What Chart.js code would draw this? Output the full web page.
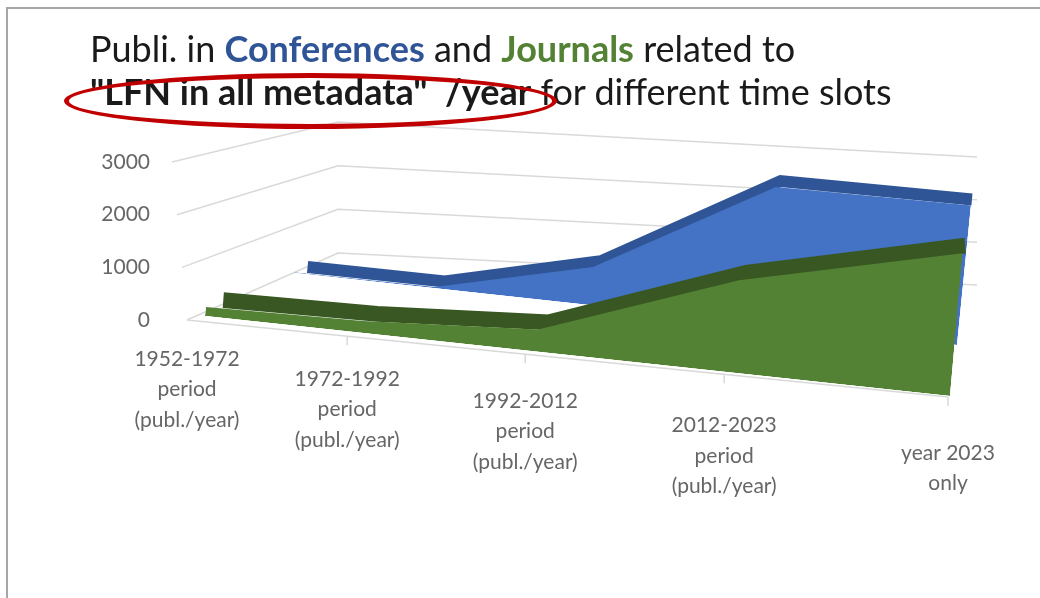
<!DOCTYPE html>
<html>
<head>
<meta charset="utf-8">
<script src="https://cdn.jsdelivr.net/npm/chart.js@4.4.0/dist/chart.umd.min.js"></script>
<style>
  html, body { margin: 0; padding: 0; background: #fff; overflow: hidden; }
  #wrap { position: relative; width: 1040px; height: 598px; }
  #frame { position: absolute; left: 6px; top: 7px; width: 1100px; height: 700px;
           border-left: 2px solid #a6a6a6; border-top: 2px solid #a6a6a6; }
  #title { position: absolute; left: 90px; top: 27px; font-family: Lato, sans-serif;
           font-size: 36px; line-height: 43px; color: #1a1a1a; white-space: pre; }
  #title .conf { color: #2f5597; font-weight: bold; }
  #title .jour { color: #548235; font-weight: bold; }
  #ring { position: absolute; left: 64px; top: 73px; width: 493px; height: 56px;
          box-sizing: border-box; border: 5px solid #c00000; border-radius: 50%; }
  canvas { position: absolute; left: 0; top: 0; }
</style>
</head>
<body>
<div id="wrap">
  <div id="frame"></div>
  <canvas id="chart" width="1040" height="598"></canvas>
  <div id="title">Publi. in <span class="conf">Conferences</span> and <span class="jour">Journals</span> related to
<b>"LFN in all metadata"  /year</b> for different time slots</div>
  <div id="ring"></div>
</div>
<script>
const categories = [
  ["1952-1972", "period", "(publ./year)"],
  ["1972-1992", "period", "(publ./year)"],
  ["1992-2012", "period", "(publ./year)"],
  ["2012-2023", "period", "(publ./year)"],
  ["year 2023", "only"]
];
const conferences = [10, 20, 720, 2600, 2650];
const journals = [150, 200, 370, 1550, 2400];
const yTicks = [0, 1000, 2000, 3000];

// fake 3D: every row is the flat plot pushed onto a tilted floor
// l / r = offset of the left / right base corner from the plot area corners
const rows = {
  floor:     { l: [-18, 0],       r: [-2, 77],    s: 1,    lean: 0 },
  greenFace: { l: [0, -4],        r: [0, 76],     s: 1.13, lean: -0.1 },
  greenTop:  { l: [17.5, -11],    r: [2.5, 68.5], s: 1.13, lean: -0.1 },
  blueFace:  { l: [90, -47],      r: [7, 25],     s: 1,    lean: -0.1 },
  blueTop:   { l: [102.5, -52.5], r: [8, 19],     s: 1,    lean: -0.1 }
};

function matrix(chart, row) {
  const L = chart.chartArea.left, R = chart.chartArea.right;
  const Y0 = chart.scales.y.getPixelForValue(0);
  const x0 = L + row.l[0], y0 = Y0 + row.l[1];
  const x1 = R + row.r[0], y1 = Y0 + row.r[1];
  const a = (x1 - x0) / (R - L), b = (y1 - y0) / (R - L);
  const c = row.lean, d = row.s;
  return [a, b, c, d, x0 - a * L - c * Y0, y0 - b * L - d * Y0];
}

// category axis seen in perspective: right side closer to the viewer
class PerspectiveScale extends Chart.CategoryScale {
  getPixelForDecimal(dec) {
    const q = 1.25;
    return super.getPixelForDecimal(dec / (q + (1 - q) * dec));
  }
}
PerspectiveScale.id = 'perspective';
PerspectiveScale.defaults = Chart.CategoryScale.defaults;
Chart.register(PerspectiveScale);

let queue = [];
function pushNext(chart) {
  const meta = queue.shift();
  if (!meta) return;
  const ds = chart.data.datasets[meta.index];
  chart.ctx.save();
  chart.ctx.transform(...matrix(chart, rows[ds.row]));
}

function drawWalls(chart) {
  const ctx = chart.ctx;
  const L = chart.chartArea.left, R = chart.chartArea.right;
  const ys = chart.scales.y;
  const Y0 = ys.getPixelForValue(0);
  ctx.save();
  ctx.strokeStyle = '#d9d9d9';
  ctx.lineWidth = 1.5;
  ctx.beginPath();
  ys.ticks.forEach(t => {
    const y = ys.getPixelForValue(t.value);
    const h = Y0 - y;
    ctx.moveTo(L - 18 - 0.095 * h, y);
    ctx.lineTo(L + 133, Y0 - 67 - 0.829 * h);
    ctx.lineTo(R + 27, Y0 - 35 - 0.81 * h);
  });
  // front edge of the floor with tick marks
  const m = matrix(chart, rows.floor);
  const xs = chart.scales.x;
  ctx.moveTo(m[0] * L + m[4], m[1] * L + m[3] * Y0 + m[5]);
  ctx.lineTo(m[0] * R + m[4], m[1] * R + m[3] * Y0 + m[5]);
  for (let i = 1; i < categories.length; i++) {
    const x = xs.getPixelForValue(i);
    const px = m[0] * x + m[4], py = m[1] * x + m[3] * Y0 + m[5];
    ctx.moveTo(px, py);
    ctx.lineTo(px, py + 9);
  }
  ctx.stroke();
  ctx.restore();
}

function drawCategoryLabels(chart) {
  const ctx = chart.ctx;
  const L = chart.chartArea.left, R = chart.chartArea.right;
  const Y0 = chart.scales.y.getPixelForValue(0);
  const xs = chart.scales.x;
  const m = matrix(chart, rows.floor);
  ctx.save();
  ctx.font = '21px Lato';
  ctx.fillStyle = '#666666';
  ctx.textAlign = 'center';
  ctx.textBaseline = 'middle';
  chart.data.labels.forEach((lab, i) => {
    const x = xs.getPixelForValue(i);
    const f = (x - L) / (R - L);
    const px = m[0] * x + m[4];
    const py = m[1] * x + m[3] * Y0 + m[5] + 39 + 17 * f;
    lab.forEach((line, k) => ctx.fillText(line, px, py + k * 30.5));
  });
  ctx.restore();
}

const depth3d = {
  id: 'depth3d',
  beforeDatasetsDraw(chart) {
    drawWalls(chart);
    queue = chart.getSortedVisibleDatasetMetas().slice().reverse();
    pushNext(chart);
  },
  afterDatasetDraw(chart) {
    chart.ctx.restore();
    pushNext(chart);
  },
  afterDatasetsDraw(chart) {
    drawCategoryLabels(chart);
  }
};

new Chart(document.getElementById('chart'), {
  type: 'line',
  data: {
    labels: categories,
    datasets: [
      { label: 'Journals', row: 'greenFace', order: 1, data: journals, fill: 'origin',
        backgroundColor: '#548235', borderColor: 'rgba(0,0,0,0)', borderWidth: 0, clip: false },
      { label: 'Journals top', row: 'greenTop', order: 2, data: journals, fill: false,
        borderColor: '#385723', borderWidth: 14, borderCapStyle: 'butt', borderJoinStyle: 'miter', clip: false },
      { label: 'Conferences', row: 'blueFace', order: 3, data: conferences, fill: 'origin',
        backgroundColor: '#4472c4', borderColor: 'rgba(0,0,0,0)', borderWidth: 0, clip: false },
      { label: 'Conferences top', row: 'blueTop', order: 4, data: conferences, fill: false,
        borderColor: '#2f5597', borderWidth: 12, borderCapStyle: 'butt', borderJoinStyle: 'miter', clip: false }
    ]
  },
  options: {
    responsive: false,
    animation: false,
    devicePixelRatio: 1,
    layout: { padding: { left: 85, right: 90, top: 162, bottom: 278 } },
    elements: { point: { radius: 0 }, line: { tension: 0 } },
    plugins: { legend: { display: false }, tooltip: { enabled: false } },
    scales: {
      x: { type: 'perspective', display: false },
      y: {
        min: 0, max: 3000,
        afterBuildTicks: s => { s.ticks = yTicks.map(v => ({ value: v })); },
        afterFit: s => { s.width = 120; },
        grid: { display: false, drawTicks: false },
        border: { display: false },
        ticks: { padding: 55, color: '#666666', font: { family: 'Lato', size: 21 },
                 callback: v => String(v) }
      }
    }
  },
  plugins: [depth3d]
});
</script>
</body>
</html>
